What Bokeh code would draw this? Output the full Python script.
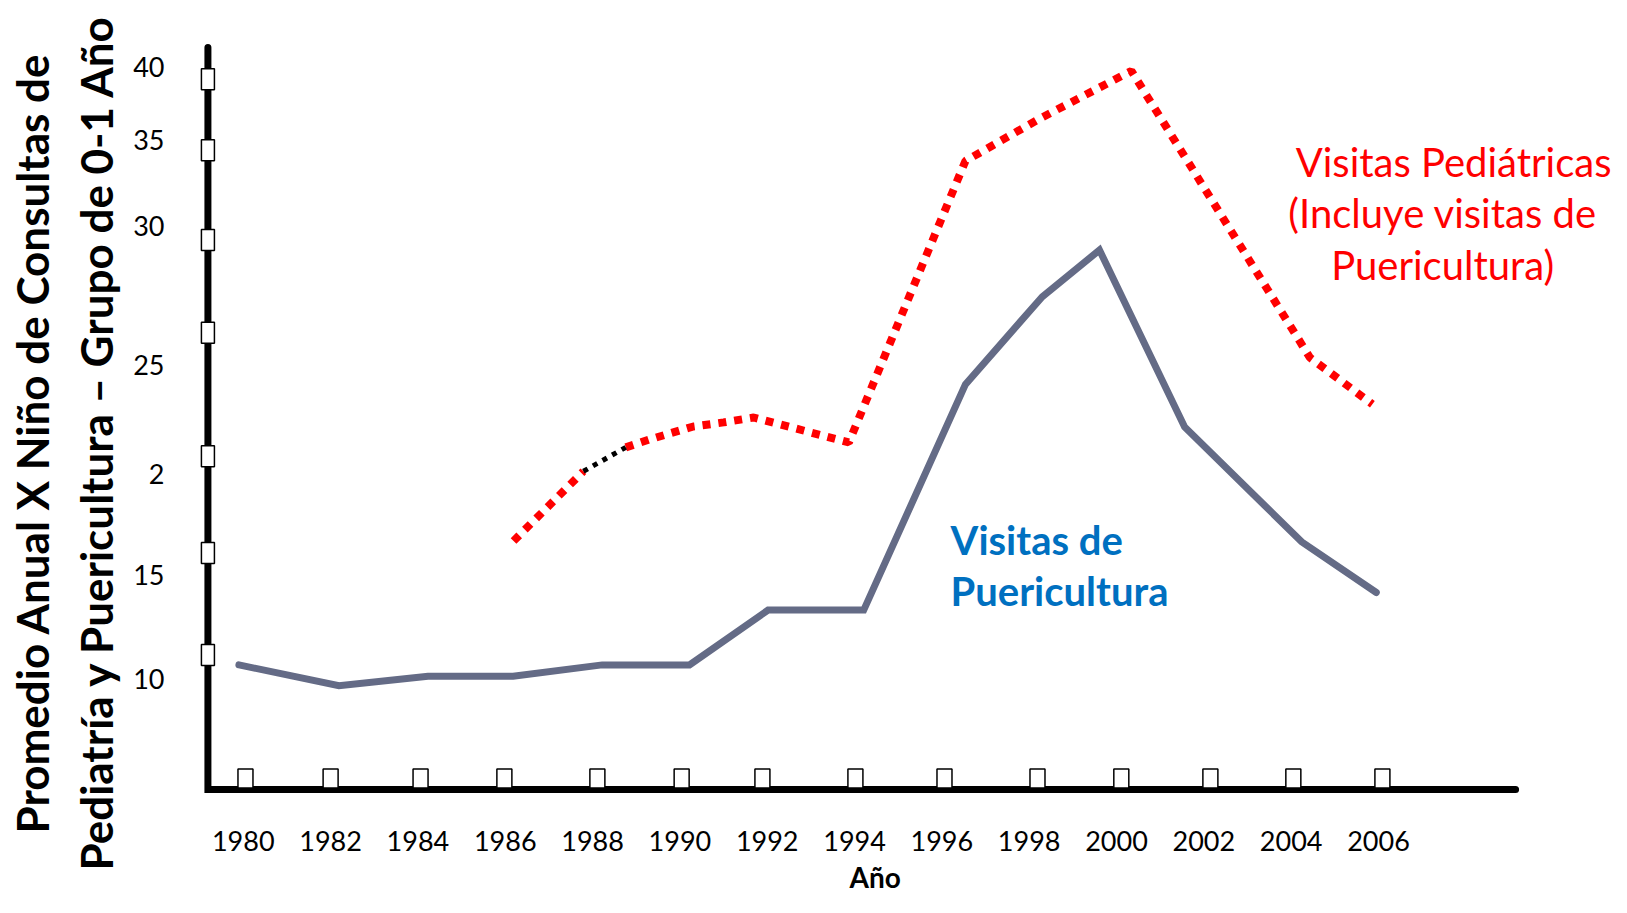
import math
from bokeh.plotting import figure
from bokeh.models import FixedTicker, Label, Title
from bokeh.embed import file_html
from bokeh.resources import INLINE

# ---------------- data ----------------
x_tick_years = [1980, 1982, 1984, 1986, 1988, 1990, 1992, 1994, 1996, 1998, 2000, 2002, 2004, 2006]
y_tick_pos = [10.0, 15.07, 20.0, 25.37, 32.15, 36.34, 39.90]
y_tick_labels = ["10", "15", "2", "25", "30", "35", "40"]

# "Visitas de Puericultura" (solid grey line)
puer_x = [1979.90, 1982.19, 1984.23, 1986.18, 1988.22, 1990.22, 1992.02, 1994.21,
          1996.54, 1998.30, 1999.61, 2001.56, 2004.24, 2005.95]
puer_y = [10.68, 9.66, 10.12, 10.12, 10.68, 10.68, 13.36, 13.36,
          24.40, 28.69, 30.97, 22.32, 16.70, 14.22]

# "Visitas Pediátricas" (red dotted line)
ped_x = [1986.19, 1987.79, 1988.76, 1989.31, 1990.31, 1991.00, 1991.69, 1993.87,
         1996.54, 1998.20, 2000.34, 2004.43, 2005.86]
ped_y = [16.74, 20.15, 21.32, 21.71, 22.34, 22.54, 22.78, 21.56,
         35.33, 37.35, 39.73, 25.71, 23.43]

# small square markers on the axes
x_box_years = [1980.05, 1982.00, 1984.06, 1985.98, 1988.11, 1990.04, 1991.89, 1994.02,
               1996.06, 1998.19, 2000.11, 2002.15, 2004.05, 2006.09]
y_box_vals = [39.32, 35.85, 31.46, 26.93, 20.88, 16.15, 11.17]

y_title_lines = ["Promedio Anual X Niño de Consultas de",
                 "Pediatría y Puericultura – Grupo de 0-1 Año"]
x_title = "Año"

# axis geometry (data units)
AX_X = 1979.19
AX_Y = 4.585
AX_TOP = 40.88
AX_RIGHT = 2009.14
XBOX_Y = 5.12

FONT = "Lato"

p = figure(width=1611, height=897, title=None,
           x_range=(1978.791, 2011.337), y_range=(4.341, 41.317),
           output_backend="svg", toolbar_location=None,
           min_border_left=190, min_border_right=0,
           min_border_top=38, min_border_bottom=101)
p.grid.visible = False
p.outline_line_color = None
p.background_fill_color = "white"
p.border_fill_color = "white"

# axes (labels only; the thick lines are drawn as glyphs)
yax = p.yaxis[0]
yax.ticker = FixedTicker(ticks=y_tick_pos)
yax.major_label_overrides = {t: l for t, l in zip(y_tick_pos, y_tick_labels)}
yax.axis_line_color = None
yax.major_tick_line_color = None
yax.minor_tick_line_color = None
yax.major_tick_out = 0
yax.major_tick_in = 0
yax.major_label_standoff = 26
yax.major_label_text_font = FONT
yax.major_label_text_font_size = "27px"
yax.major_label_text_color = "black"

xax = p.xaxis[0]
xax.ticker = FixedTicker(ticks=x_tick_years)
xax.major_label_overrides = {t: str(t) for t in x_tick_years}
xax.axis_line_color = None
xax.major_tick_line_color = None
xax.minor_tick_line_color = None
xax.major_tick_out = 0
xax.major_tick_in = 0
xax.major_label_standoff = 36
xax.major_label_text_font = FONT
xax.major_label_text_font_size = "27px"
xax.major_label_text_color = "black"

# axis titles
p.add_layout(Title(text=x_title, align="left", offset=659, standoff=8,
                   text_font=FONT, text_font_style="bold", text_font_size="28px",
                   text_color="black"), "below")
for line, off, so in [(y_title_lines[1], -76, 17), (y_title_lines[0], -39, 4)]:
    p.add_layout(Title(text=line, align="left", offset=off, standoff=so,
                       text_font=FONT, text_font_style="bold", text_font_size="44px",
                       text_color="black"), "left")

# thick axis lines
p.line([AX_X, AX_X, AX_RIGHT], [AX_TOP, AX_Y, AX_Y], line_color="black",
       line_width=7, line_join="miter", line_cap="round")

# data lines
p.line(puer_x, puer_y, line_color="#646B86", line_width=7,
       line_join="miter", line_cap="round")
p.line(ped_x[:2], ped_y[:2], line_color="#FF0000", line_width=8, line_dash="8 8")
p.line(ped_x[2:], ped_y[2:], line_color="#FF0000", line_width=8, line_dash="8 8")
p.line(ped_x[1:3], ped_y[1:3], line_color="black", line_width=5, line_dash="5 6")

# axis square markers
p.rect(x=[AX_X] * len(y_box_vals), y=y_box_vals, width=13, height=21,
       width_units="screen", height_units="screen",
       fill_color="white", line_color="black", line_width=1.5)
p.rect(x=x_box_years, y=[XBOX_Y] * len(x_box_years), width=15, height=19,
       width_units="screen", height_units="screen",
       fill_color="white", line_color="black", line_width=1.5)

# series annotations
for txt, yy in [("Visitas de", 16.80), ("Puericultura", 14.27)]:
    p.add_layout(Label(x=1996.20, y=yy, text=txt, text_align="left",
                       text_baseline="middle", text_font=FONT,
                       text_font_style="bold", text_font_size="40px",
                       text_color="#0070C0"))

for txt, xx, yy in [("Visitas Pediátricas", 2007.72, 35.27),
                    ("(Incluye visitas de", 2007.47, 32.78),
                    ("Puericultura)", 2007.47, 30.25)]:
    p.add_layout(Label(x=xx, y=yy, text=txt, text_align="center",
                       text_baseline="middle", text_font=FONT,
                       text_font_size="40px", text_color="#FF0000"))

open("out.html", "w").write(file_html(p, INLINE))
